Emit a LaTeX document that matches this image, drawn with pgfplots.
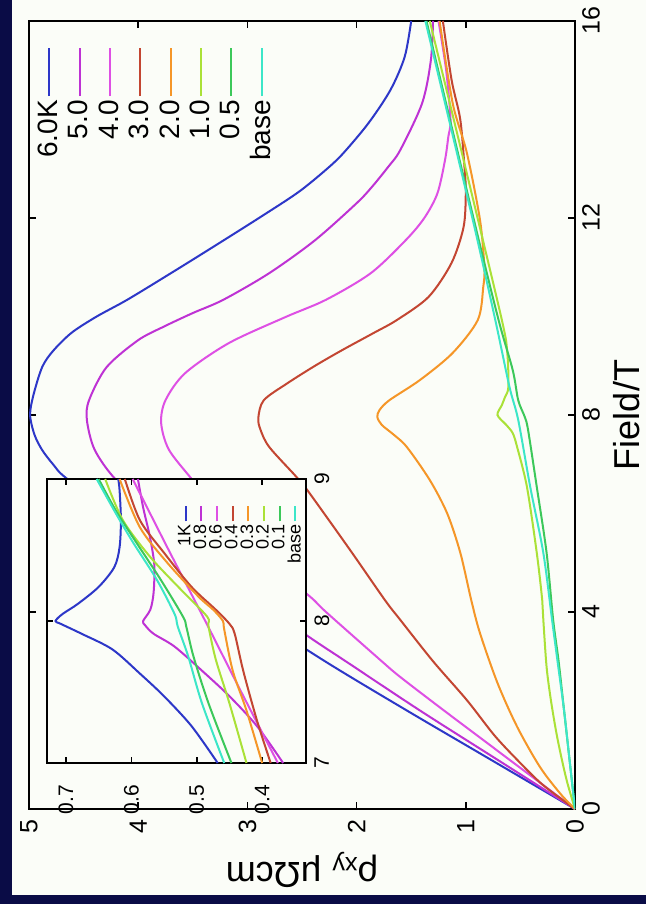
\documentclass[border=0pt]{standalone}
\usepackage{fontspec}
\setmainfont{Liberation Sans}
\usepackage{pgfplots}
\pgfplotsset{compat=1.18}

\definecolor{bgnavy}{RGB}{10,12,70}
\definecolor{paper}{RGB}{251,253,248}
\definecolor{cA}{RGB}{45,55,200}
\definecolor{cB}{RGB}{190,50,212}
\definecolor{cC}{RGB}{222,80,228}
\definecolor{cD}{RGB}{195,70,50}
\definecolor{cE}{RGB}{245,150,40}
\definecolor{cF}{RGB}{170,225,55}
\definecolor{cG}{RGB}{60,200,90}
\definecolor{cH}{RGB}{60,230,200}

\pgfplotsset{
  gp/.style={
    scale only axis,
    axis line style={line width=1pt},
    every tick/.style={black, line width=0.8pt},
    /pgf/number format/assume math mode=true,
    legend plot pos=right,
    legend cell align=right,
    every axis plot/.append style={line width=1pt, no marks, smooth},
  },
}

\begin{document}
\begin{tikzpicture}[rotate=90, transform shape]
\fill[bgnavy] (0,0) rectangle (452pt,323pt);
\fill[paper] (4.5pt,0) rectangle (452pt,317pt);

% main plot
\begin{axis}[gp,
  at={(47.5pt,35.5pt)}, anchor=south west,
  width=394pt, height=273pt,
  xmin=0, xmax=16, ymin=0, ymax=5,
  xtick={0,4,8,12,16}, ytick={0,1,2,3,4,5},
  major tick length=3.5pt,
  tick label style={font=\fontsize{12.5}{14}\selectfont},
  yticklabel style={xshift=-1.8pt},
  xlabel={Field/T},
  ylabel={ρ\textsubscript{xy} μΩcm},
  label style={font=\fontsize{18}{20}\selectfont},
  xlabel style={at={(axis description cs:0.5,-0.095)}, anchor=center},
  ylabel style={at={(axis description cs:-0.0774,0.5)}, anchor=center},
  legend image code/.code={\draw[#1] (0pt,0pt) -- (24pt,0pt);},
  legend style={draw=none, fill=none, at={(0.975,0.997)}, anchor=north east,
    font=\fontsize{14}{15}\selectfont, row sep=0.9pt,
    nodes={inner sep=1.5pt}},
]
\addplot[cA] coordinates {(0,0) (1,0.77) (2,1.54) (3,2.29) (4,2.98) (5,3.6) (6,4.2) (6.72,4.66) (7.0,4.78) (7.29,4.88) (7.6,4.95) (8,4.99) (8.4,4.96) (8.97,4.88) (9.3,4.78) (9.67,4.61) (10,4.38) (10.34,4.10) (10.88,3.70) (11.39,3.33) (12.02,2.88) (12.53,2.53) (13.0,2.27) (13.32,2.12) (13.93,1.89) (14.6,1.69) (15.27,1.56) (16,1.50)};
\addplot[cB] coordinates {(0,0) (1,0.71) (2,1.42) (3,2.1) (3.47,2.42) (4,2.75) (5,3.3) (6,3.85) (6.7,4.21) (7.3,4.4) (7.9,4.47) (8.3,4.45) (8.97,4.29) (9.52,4.0) (9.8,3.76) (10.07,3.50) (10.34,3.22) (10.88,2.80) (11.55,2.38) (12.3,2.0) (12.63,1.86) (13.04,1.71) (13.38,1.60) (14.33,1.40) (15.2,1.32) (16,1.30)};
\addplot[cC] coordinates {(0,0) (1,0.6) (2,1.2) (2.68,1.6) (3,1.77) (4,2.28) (4.3,2.42) (5,2.8) (6,3.25) (6.7,3.51) (7.3,3.72) (7.84,3.79) (8.3,3.75) (8.85,3.57) (9.46,3.17) (9.99,2.65) (10.34,2.28) (10.88,1.87) (11.55,1.55) (12.0,1.38) (12.5,1.26) (13.18,1.19) (13.65,1.16) (14.0,1.14) (15,1.18) (16,1.25)};
\addplot[cD] coordinates {(0,0) (0.5,0.3) (1,0.53) (1.5,0.74) (2.21,0.99) (3,1.3) (3.84,1.6) (4.24,1.74) (5.26,2.06) (6.44,2.44) (6.74,2.55) (7.35,2.80) (7.7,2.88) (7.94,2.90) (8.3,2.85) (8.65,2.63) (9.0,2.38) (9.32,2.13) (9.67,1.84) (9.93,1.63) (10.4,1.34) (11.09,1.13) (11.82,1.02) (12.51,1.0) (12.97,1.01) (13.99,1.05) (14.8,1.13) (16,1.21)};
\addplot[cE] coordinates {(0,0) (0.3,0.13) (0.85,0.32) (1.67,0.53) (2.56,0.71) (3.57,0.87) (4.24,0.95) (5.2,1.05) (6.0,1.17) (6.68,1.33) (7.35,1.54) (7.6,1.66) (7.8,1.77) (7.96,1.81) (8.1,1.79) (8.3,1.70) (8.71,1.42) (9.26,1.12) (9.93,0.89) (10.6,0.84) (11.0,0.83) (11.96,0.87) (13.32,0.99) (14.33,1.12) (16,1.24)};
\addplot[cF] coordinates {(0,0) (0.53,0.07) (1,0.12) (1.54,0.17) (2.2,0.22) (2.88,0.26) (3.84,0.29) (4.24,0.30) (5.2,0.35) (6.54,0.44) (7.35,0.53) (7.63,0.57) (7.8,0.63) (8.0,0.71) (8.2,0.67) (8.37,0.64) (8.57,0.61) (9.26,0.62) (9.93,0.67) (12.9,0.99) (16,1.33)};
\addplot[cG] coordinates {(0,0) (1,0.05) (2,0.1) (3,0.15) (3.84,0.20) (5.2,0.26) (6.54,0.35) (7.7,0.43) (7.96,0.46) (8.3,0.52) (8.91,0.57) (9.93,0.70) (12,0.93) (16,1.36)};
\addplot[cH] coordinates {(0,0) (1,0.05) (2,0.1) (3,0.16) (3.84,0.21) (5.2,0.29) (6.54,0.41) (7.9,0.52) (8.57,0.60) (9.93,0.73) (12,0.94) (16,1.37)};
\legend{6.0K,5.0,4.0,3.0,2.0,1.0,0.5,base}
\end{axis}

% inset
\begin{axis}[gp,
  at={(70.5pt,170pt)}, anchor=south west,
  width=142pt, height=129.5pt,
  axis background/.style={fill=paper},
  xmin=7, xmax=9, ymin=0.333, ymax=0.729,
  xtick={7,8,9}, ytick={0.4,0.5,0.6,0.7},
  y tick label style={/pgf/number format/fixed, /pgf/number format/fixed zerofill, /pgf/number format/precision=1, xshift=-7.5pt},
  major tick length=3pt,
  tick label style={font=\fontsize{10.5}{12}\selectfont},
  x tick label style={yshift=-0.7pt},
  legend image code/.code={\draw[#1] (0pt,0pt) -- (7.5pt,0pt);},
  legend style={draw=none, fill=none, at={(0.93,0.519)}, anchor=north east,
    font=\fontsize{9}{9}\selectfont, row sep=-1.95pt,
    nodes={inner sep=1pt}},
]
\addplot[cA] coordinates {(7,0.468) (7.26,0.508) (7.47,0.55) (7.63,0.587) (7.8,0.629) (7.91,0.676) (7.98,0.708) (8.0,0.716) (8.05,0.705) (8.12,0.682) (8.24,0.65) (8.38,0.626) (8.52,0.618) (8.71,0.616) (8.92,0.618) (9,0.62)};
\addplot[cB] coordinates {(7,0.368) (7.26,0.408) (7.47,0.45) (7.65,0.492) (7.82,0.534) (7.91,0.566) (7.97,0.579) (8.0,0.582) (8.08,0.571) (8.2,0.566) (8.4,0.565) (8.6,0.572) (8.8,0.582) (9,0.59)};
\addplot[cC] coordinates {(7,0.376) (7.5,0.432) (8,0.487) (8.5,0.543) (9,0.598)};
\addplot[cD] coordinates {(7,0.387) (7.3,0.408) (7.65,0.429) (7.91,0.442) (7.98,0.45) (8.08,0.471) (8.24,0.508) (8.48,0.55) (8.71,0.587) (9,0.61)};
\addplot[cE] coordinates {(7,0.40) (7.37,0.424) (7.65,0.445) (7.94,0.458) (8.0,0.46) (8.08,0.475) (8.17,0.497) (8.41,0.545) (8.66,0.587) (9,0.618)};
\addplot[cF] coordinates {(7,0.424) (7.42,0.45) (7.73,0.471) (7.96,0.482) (8.03,0.484) (8.22,0.524) (8.45,0.571) (8.71,0.613) (9,0.64)};
\addplot[cG] coordinates {(7,0.447) (7.42,0.482) (7.75,0.505) (7.96,0.516) (8.03,0.521) (8.29,0.555) (8.55,0.592) (8.78,0.624) (9,0.65)};
\addplot[cH] coordinates {(7,0.458) (7.42,0.492) (7.75,0.513) (7.96,0.529) (8.05,0.534) (8.29,0.561) (8.55,0.597) (8.76,0.624) (9,0.653)};
\legend{1K,0.8,0.6,0.4,0.3,0.2,0.1,base}
\end{axis}
\end{tikzpicture}
\end{document}
